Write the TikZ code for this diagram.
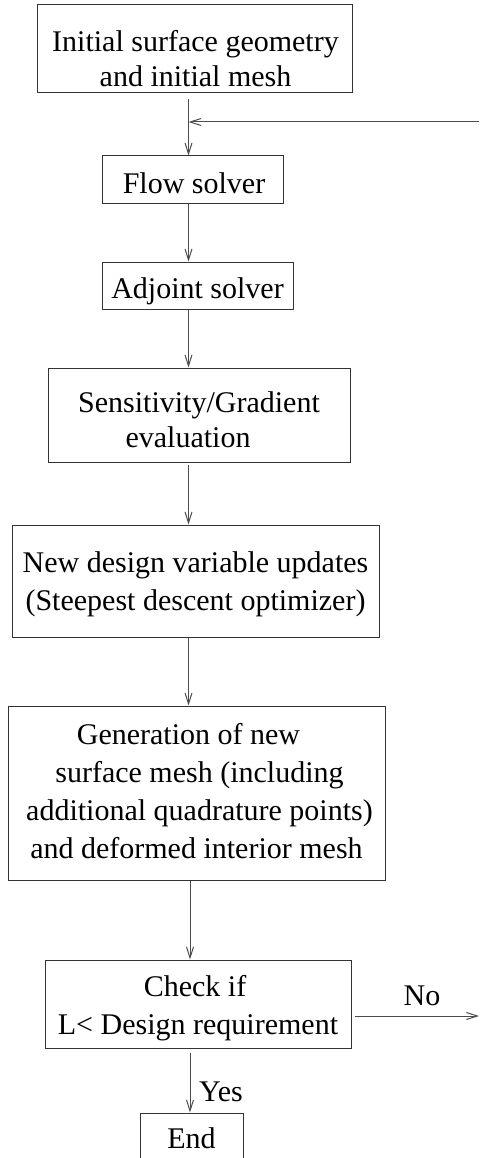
\documentclass[tikz,border=0pt]{standalone}
\usepackage{fontspec}
\setmainfont{Liberation Serif}
\usetikzlibrary{arrows.meta}
\begin{document}
\begin{tikzpicture}[x=1pt,y=-1pt,
  box/.style={draw=black!80, line width=1pt, rectangle, inner sep=0pt},
  txt/.style={align=center, inner sep=0pt, font=\fontsize{30}{35}\selectfont},
  wide/.style={font=\fontsize{30}{38}\selectfont},
  conn/.style={draw=black!70, line width=1pt, -{Straight Barb[length=11pt,width=7pt]}}
]
\clip (0,0) rectangle (479,1158);
\useasboundingbox (0,0) rectangle (479,1158);

% boxes
\node[box, minimum width=315pt, minimum height=88pt] (init) at (194.5,49) {};
\node[box, minimum width=181pt, minimum height=48pt] (flow) at (193,180) {};
\node[box, minimum width=191pt, minimum height=47pt] (adj) at (197.5,285.5) {};
\node[box, minimum width=302pt, minimum height=94pt] (sens) at (199,415) {};
\node[box, minimum width=367pt, minimum height=112pt] (newd) at (195.5,581) {};
\node[box, minimum width=377pt, minimum height=174pt] (gen) at (196.5,793) {};
\node[box, minimum width=306pt, minimum height=88pt] (check) at (198,1004) {};
\node[box, minimum width=103pt, minimum height=52pt] (end) at (191.5,1139) {};

% texts
\node[txt] (init-t) at ([xshift=1pt,yshift=-9.5pt]init.center) {Initial surface geometry\\and initial mesh};
\node[txt] (flow-t) at ([xshift=1pt,yshift=-3pt]flow.center) {Flow solver};
\node[txt] (adj-t) at ([yshift=-5.5pt]adj.center) {Adjoint solver};
\node[txt] (sens-t) at ([yshift=-5pt]sens.center) {Sensitivity/Gradient\\\hspace*{0pt}evaluation\hspace*{22pt}};
\node[txt, wide] (newd-t) at ([yshift=-3pt]newd.center) {New design variable updates\\(Steepest descent optimizer)};
\node[txt, wide] (gen-t) at ([xshift=3pt,yshift=1.5pt]gen.center) {Generation of new\hspace*{22pt}\\surface mesh (including\hspace*{12pt}\\additional quadrature points)\\and deformed interior mesh\hspace*{6pt}};
\node[txt, wide] (check-t) at ([yshift=-4.5pt]check.center) {Check if\hspace*{6pt}\\L< Design requirement};
\node[txt] (end-t) at ([yshift=1pt]end.center) {End};

% axis helpers
\coordinate (ax) at (188.5,0);
\coordinate (bx) at (190,0);
\coordinate (s1) at ([yshift=-6pt]init.south);
\coordinate (s4) at ([yshift=-2pt]sens.south);
\coordinate (s7) at ([yshift=-4pt]check.south);
\coordinate (fb) at (479,122);
\coordinate (noend) at (479,1016);
\coordinate (nostart) at ([xshift=3pt]check.east);

% connectors
\draw[conn] (s1 -| ax) -- (flow.north -| ax);
\draw[conn] (fb) -- (fb -| ax);
\draw[conn] (flow.south -| ax) -- (adj.north -| ax);
\draw[conn] (adj.south -| ax) -- (sens.north -| ax);
\draw[conn] (s4 -| ax) -- (newd.north -| ax);
\draw[conn] (newd.south -| ax) -- (gen.north -| ax);
\draw[conn] (gen.south -| bx) -- (check.north -| bx);
\draw[conn] (s7 -| bx) -- (end.north -| bx);
\draw[conn] (nostart |- noend) -- (noend);

% labels
\node[txt] (no) at (422,996) {No};
\node[txt, anchor=west] (yes) at (199,1092) {Yes};
\end{tikzpicture}
\end{document}
